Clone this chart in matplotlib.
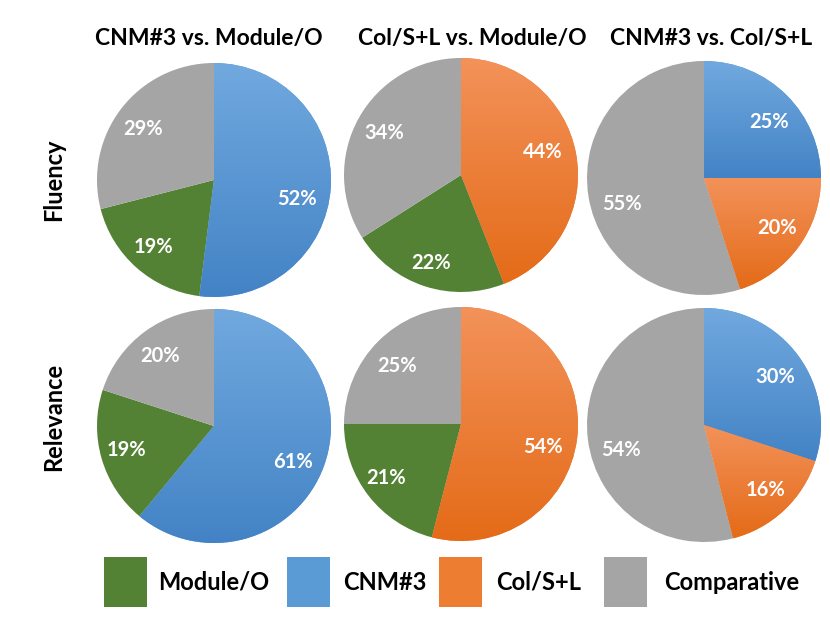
import numpy as np
import matplotlib
matplotlib.use("Agg")
import matplotlib.pyplot as plt
from matplotlib.patches import Rectangle
from matplotlib.colors import to_rgb

plt.rcParams['font.family'] = ['Lato', 'DejaVu Sans']

# ---- data ----
titles = ["CNM#3 vs. Module/O", "Col/S+L vs. Module/O", "CNM#3 vs. Col/S+L"]
rows = ["Fluency", "Relevance"]
legend_labels = ["Module/O", "CNM#3", "Col/S+L", "Comparative"]
# slice categories per column (clockwise from 12 o'clock)
col_cats = [["CNM#3", "Module/O", "Comparative"],
            ["Col/S+L", "Module/O", "Comparative"],
            ["CNM#3", "Col/S+L", "Comparative"]]
fluency_vals = [[52, 19, 29], [44, 22, 34], [25, 20, 55]]
relevance_vals = [[61, 19, 20], [54, 21, 25], [30, 16, 54]]
values = [fluency_vals, relevance_vals]

# ---- style / layout ----
flat = {"Module/O": "#548235", "CNM#3": "#5B9BD5", "Col/S+L": "#ED7D31", "Comparative": "#A5A5A5"}
grad = {"CNM#3": ("#71A9DF", "#4383C5"), "Col/S+L": ("#F3925A", "#E46B18")}

W, H = 830, 623
fig = plt.figure(figsize=(W / 100, H / 100), dpi=100)

centers = [[(214, 180), (461, 175), (704, 178)],
           [(214, 426), (461, 424), (704, 425)]]
R = 117
# small label nudges in pixels (dx right, dy down), mimicking the source's label placement
nudges = [[[(-5, 13), (-2, 1), (-2, 3)], [(-4, -7), (-3, 5), (0, 0)], [(3, 6), (2, -2), (5, 12)]],
          [[(-4, 6), (-3, 0), (-2, 1)], [(-5, 12), (-6, 0), (-2, 4)], [(0, 4), (1, 1), (4, 14)]]]

def gradient_img(top, bottom, n=256):
    t = np.linspace(0, 1, n)[:, None]
    a = np.array(to_rgb(bottom)); b = np.array(to_rgb(top))
    img = a[None, :] * (1 - t) + b[None, :] * t
    return img[:, None, :]

for ri in range(2):
    for ci in range(3):
        cx, cy = centers[ri][ci]
        ax = fig.add_axes([(cx - R) / W, (H - cy - R) / H, 2 * R / W, 2 * R / H])
        cats = col_cats[ci]
        vals = values[ri][ci]
        wedges, texts, autotexts = ax.pie(
            vals, colors=[flat[c] for c in cats], startangle=90, counterclock=False,
            autopct=lambda p: f"{p:.0f}%", pctdistance=0.75, radius=1,
            textprops=dict(color="white", fontsize=14.5, fontweight="bold"))
        for w, c in zip(wedges, cats):
            if c in grad:
                x0, y0, x1, y1 = w.get_path().get_extents().extents
                im = ax.imshow(gradient_img(*grad[c]), extent=[x0, x1, y0, y1],
                               origin="lower", aspect="auto", zorder=1.5,
                               interpolation="bilinear")
                im.set_clip_path(w)
        for t, (dx, dy) in zip(autotexts, nudges[ri][ci]):
            x, y = t.get_position()
            t.set_position((x + dx / R, y - dy / R))
            t.set_zorder(5)
        ax.set_xlim(-1, 1)
        ax.set_ylim(-1, 1)
        ax.set_aspect("equal")
        ax.axis("off")

# column titles
title_x = [209, 472, 711]
for tx, t in zip(title_x, titles):
    fig.text(tx / W, 1 - 38 / H, t, ha="center", va="center", fontsize=16.5, fontweight="bold")

# row labels
row_y = [180, 417]
for ry, r in zip(row_y, rows):
    fig.text(54 / W, 1 - ry / H, r, ha="center", va="center", rotation=90,
             fontsize=17, fontweight="bold")

# legend
sq_x = [104, 287, 439, 604]
txt_x = [158, 343, 496, 664]
for sx, tx, lab in zip(sq_x, txt_x, legend_labels):
    fig.patches.append(Rectangle((sx / W, 1 - 607 / H), 43 / W, 50 / H,
                                 transform=fig.transFigure, facecolor=flat[lab],
                                 edgecolor="none"))
    fig.text(tx / W, 1 - 582 / H, lab, ha="left", va="center", fontsize=17, fontweight="bold")

fig.savefig("out.png", dpi=100)
